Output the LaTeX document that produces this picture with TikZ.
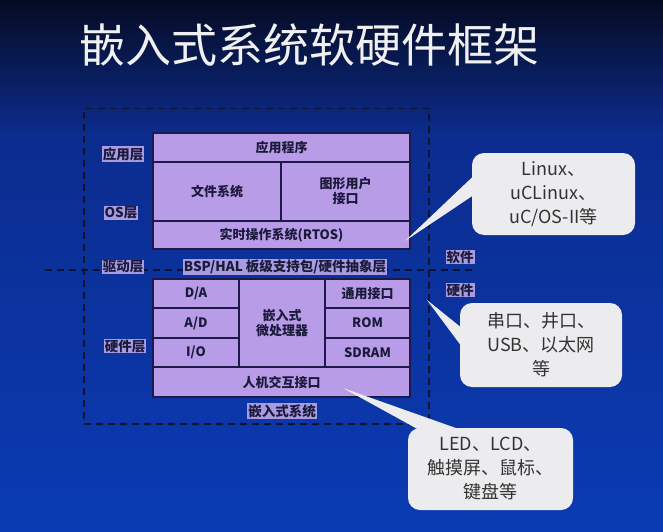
\documentclass[tikz,border=0pt]{standalone}
\usepackage{fontspec}
\setmainfont{Noto Sans CJK SC}
\usetikzlibrary{calc}
\definecolor{bgtop}{HTML}{050B22}
\definecolor{bgmid}{HTML}{0C2C8E}
\definecolor{bgbot}{HTML}{0A3BB4}
\definecolor{boxfill}{HTML}{B99CE8}
\definecolor{boxline}{HTML}{1B1A4A}
\definecolor{lblbg}{HTML}{A99BE2}
\definecolor{txt}{HTML}{1A1A3A}
\definecolor{callfill}{HTML}{ECECEF}
\definecolor{calltxt}{HTML}{333333}
\definecolor{dashcol}{HTML}{0E1330}
\tikzset{
  cell/.style={draw=boxline, line width=1.6pt, fill=boxfill, anchor=north west,
    inner sep=0pt, outer sep=0pt, align=center, text=txt,
    font=\fontsize{13}{15}\selectfont\bfseries},
  lbl/.style={fill=lblbg, inner sep=1pt, text=txt,
    font=\fontsize{13.5}{15}\selectfont\bfseries},
  dashline/.style={draw=dashcol, line width=1.5pt, dash pattern=on 7pt off 5pt},
  callout/.style={fill=callfill, rounded corners=12pt, align=center, text=calltxt,
    inner sep=0pt, font=\fontsize{18}{24}\selectfont},
  tail/.style={fill=callfill},
}
\begin{document}
\begin{tikzpicture}[x=1pt,y=-1pt]
\useasboundingbox (0,0) rectangle (663,532);
% background
\shade[top color=bgtop, bottom color=bgmid] (0,0) rectangle (663,135);
\shade[top color=bgmid, bottom color=bgbot] (0,134.5) rectangle (663,532);
% title
\node (title) [text=white!94!black, font=\fontsize{46}{50}\selectfont] at (309,45) {嵌入式系统软硬件框架};
% outer dashed system frame
\node (sys) [dashline, anchor=north west, minimum width=345pt, minimum height=315pt, inner sep=0pt] at (83,108) {};
\coordinate (swL) at (45,270);
\coordinate (swR) at (474,270);
\draw[dashline] (swL) -- (swR);
% software cells
\node (app)  [cell, minimum width=257pt, minimum height=29pt] at (153,133) {应用程序};
\node (fs)   [cell, minimum width=128pt, minimum height=59pt] at (153,162) {文件系统};
\node (gui)  [cell, minimum width=129pt, minimum height=59pt] at (281,162) {图形用户\\接口};
\node (rtos) [cell, minimum width=257pt, minimum height=28pt] at (153,221) {实时操作系统(RTOS)};
% hardware cells
\node (da)   [cell, minimum width=86pt, minimum height=29pt] at (153,279) {D/A};
\node (ad)   [cell, minimum width=86pt, minimum height=30pt] at (153,308) {A/D};
\node (io)   [cell, minimum width=86pt, minimum height=29pt] at (153,338) {I/O};
\node (cpu)  [cell, minimum width=86pt, minimum height=88pt] at (239,279) {嵌入式\\微处理器};
\node (gen)  [cell, minimum width=85pt, minimum height=29pt] at (325,279) {通用接口};
\node (rom)  [cell, minimum width=85pt, minimum height=30pt] at (325,308) {ROM};
\node (sdram)[cell, minimum width=85pt, minimum height=29pt] at (325,338) {SDRAM};
\node (hmi)  [cell, minimum width=257pt, minimum height=30pt] at (153,367) {人机交互接口};
% layer labels
\node (lapp) [lbl] at (123,154) {应用层};
\node (los)  [lbl] at (121,213) {OS层};
\node (ldrv) [lbl] at (123,267) {驱动层};
\node (lbsp) [lbl] at (285,267) {BSP/HAL 板级支持包/硬件抽象层};
\node (lhw)  [lbl] at (125,346) {硬件层};
\node (lsys) [lbl] at (282,411) {嵌入式系统};
\node (lsw)  [lbl] at (460,257) {软件};
\node (lhd)  [lbl] at (460,290) {硬件};
% callouts
\node (c1) [callout, minimum width=163pt, minimum height=82pt] at (553.5,194) {Linux、\\uCLinux、\\uC/OS-II等};
\coordinate (t1) at (405,241);
\fill[tail] (t1) -- ([shift={(8,-3)}]c1.west) -- ([shift={(8,-24)}]c1.west) -- cycle;
\node (c2) [callout, minimum width=162pt, minimum height=84pt] at (541,345) {串口、井口、\\USB、以太网\\等};
\coordinate (t2) at (427,300);
\fill[tail] (t2) -- ([shift={(8,30)}]c2.north west) -- ([shift={(8,52)}]c2.north west) -- cycle;
\node (c3) [callout, minimum width=165pt, minimum height=82pt] at (490.5,469) {LED、LCD、\\触摸屏、鼠标、\\键盘等};
\coordinate (t3) at (343,388);
\fill[tail] (t3) -- ([shift={(22,8)}]c3.north west) -- ([shift={(70,8)}]c3.north west) -- cycle;
\end{tikzpicture}
\end{document}
